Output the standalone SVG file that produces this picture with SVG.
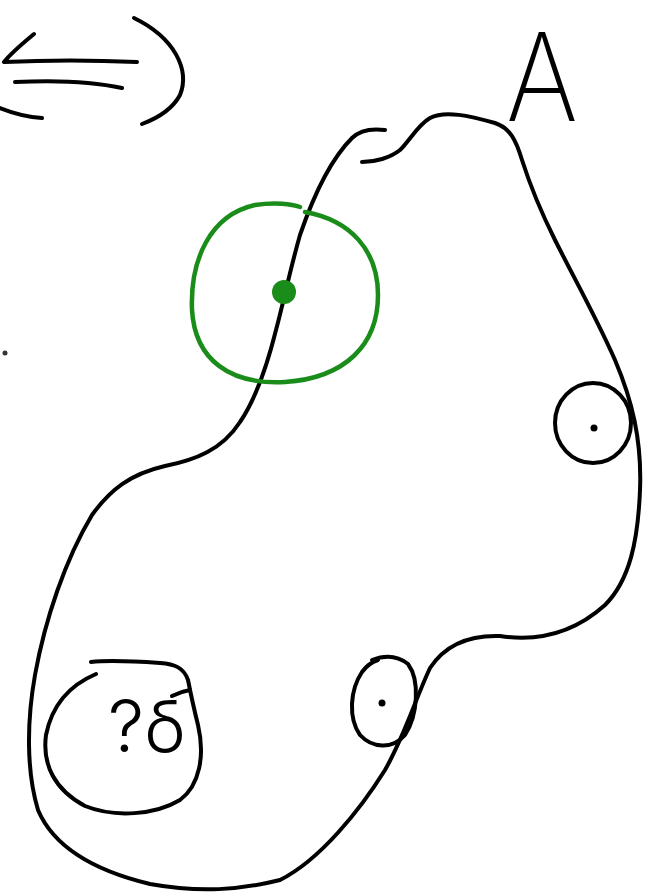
<svg xmlns="http://www.w3.org/2000/svg" width="652" height="896" viewBox="0 0 652 896">
<style>
.ink{fill:none;stroke:#000;stroke-width:4;stroke-linecap:round;stroke-linejoin:round}
.grn{fill:none;stroke:#1a8c1a;stroke-width:4.5;stroke-linecap:round}
.lbl{font-family:Inter,"Liberation Sans",sans-serif;font-weight:200;fill:#000}
</style>
<rect width="652" height="896" fill="#fff"/>
<g id="arrow">
<path class="ink" d="M34,34 C22,44 12,52 4,62 M4,62 C45,60 95,60 137,62 M15,82 C55,80 95,82 122,88 M0,108 C15,114 28,117 42,118"/>
<path class="ink" d="M134,18 C175,38 190,70 180,95 C172,110 158,118 142,124"/>
</g>
<g id="label-A">
<text class="lbl" x="506" y="121" font-size="122" textLength="72" lengthAdjust="spacingAndGlyphs">A</text>
</g>
<g id="outline">
<path class="ink" d="M385,130 C370,128 360,130 352,138 C330,160 312,200 300,235 C290,270 284,300 276,330 C266,370 255,400 240,422 C222,450 195,460 165,466 C130,474 110,490 92,515 C65,560 45,620 35,675 C27,720 26,770 38,810 C55,850 100,872 150,884 C200,893 240,890 280,880 C320,860 360,810 385,770 C405,735 415,700 430,668 C445,645 470,635 500,636 C540,642 575,632 605,605 C630,580 638,540 640,490 C642,440 632,400 615,360 C595,315 575,280 555,240 C540,210 530,185 522,160 C516,140 510,128 495,123 C470,116 445,110 430,118 C418,125 410,140 400,150 C390,158 375,162 362,162"/>
</g>
<g id="green-point">
<path class="grn" d="M305,212 C350,220 378,250 378,295 C378,345 345,378 285,382 C230,385 195,360 192,310 C190,260 210,215 255,205 C275,202 292,204 300,207"/>
<circle cx="284" cy="292" r="12" fill="#1a8c1a"/>
</g>
<g id="circle-right">
<ellipse class="ink" cx="593" cy="423" rx="38" ry="40"/>
<circle cx="594" cy="428" r="3.5" fill="#000"/>
</g>
<g id="circle-mid">
<path class="ink" d="M372,660 C385,655 398,656 408,664 C420,680 418,715 405,735 C392,750 372,748 360,735 C348,718 350,690 362,672 C367,665 372,662 378,660"/>
<circle cx="382" cy="703" r="3.5" fill="#000"/>
</g>
<g id="circle-B">
<path class="ink" d="M96,674 C70,685 52,705 46,735 C42,765 55,790 85,806 C115,818 155,815 180,800 C200,785 205,755 198,725 C193,705 190,690 188,680 C184,668 175,664 160,663 C130,661 110,660 91,662"/>
<path class="ink" d="M172,696 C178,693 184,691 190,690"/>
<text x="108" y="752" font-family="Inter,'Liberation Sans',sans-serif" font-weight="300" font-size="72" fill="#000">?δ</text>
</g>
<circle cx="5" cy="353" r="2.5" fill="#333"/>
</svg>
